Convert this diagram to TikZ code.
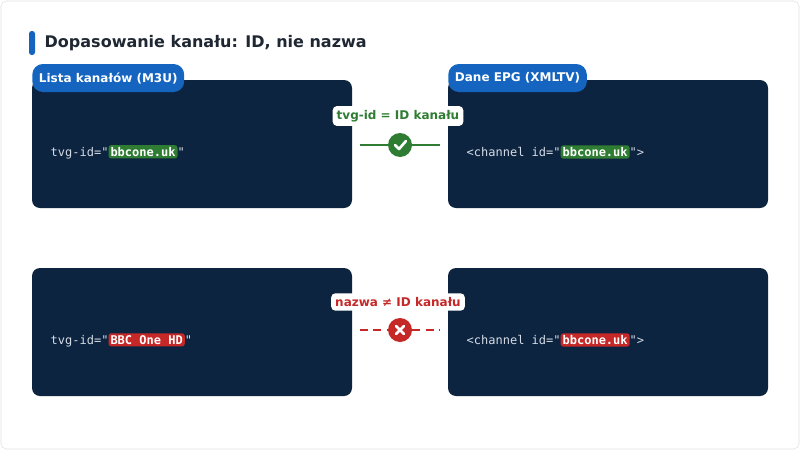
\documentclass[tikz,border=0pt]{standalone}
\usepackage{fontspec}
\setmainfont{DejaVu Sans}
\setmonofont{DejaVu Sans Mono}
\usetikzlibrary{positioning,calc}
\definecolor{panelbg}{HTML}{0D2440}
\definecolor{tagblue}{HTML}{1565C0}
\definecolor{okgreen}{HTML}{2E7D32}
\definecolor{badred}{HTML}{C62828}
\definecolor{codegray}{HTML}{D5DCE6}
\definecolor{titleink}{HTML}{1F2733}
\newcommand{\okval}[1]{\tikz[baseline=(v.base)]\node[inner sep=1.5pt,rounded corners=2pt,fill=okgreen,text=white,font=\ttfamily\bfseries\small](v){#1};}
\newcommand{\badval}[1]{\tikz[baseline=(v.base)]\node[inner sep=1.5pt,rounded corners=2pt,fill=badred,text=white,font=\ttfamily\bfseries\small](v){#1};}
\tikzset{
    panel/.style={fill=panelbg, rounded corners=6pt, draw=none},
    tag/.style={fill=tagblue, text=white, rounded corners=8pt, font=\bfseries\small, inner xsep=5pt, minimum height=21pt},
    code/.style={text=codegray, font=\ttfamily\small, anchor=west},
    verdict/.style={fill=white, rounded corners=3pt, font=\bfseries\small, inner sep=3pt},
    badge/.style={circle, minimum size=18pt, inner sep=0pt}
}
\begin{document}
\begin{tikzpicture}[x=0.75pt, y=-0.75pt]
    \useasboundingbox (0,0) rectangle (800,450);
    \draw[black!12, rounded corners=4pt] (1,1) rectangle (799,449);
    % title
    \fill[tagblue, rounded corners=2pt] (29,31) rectangle (35,55);
    \node[anchor=west, text=titleink, font=\bfseries\large] (title) at (40,43) {Dopasowanie kanału: ID, nie nazwa};
    % panels
    \fill[panel] (32,80) rectangle (352,208);
    \fill[panel] (448,80) rectangle (768,208);
    \fill[panel] (32,268) rectangle (352,396);
    \fill[panel] (448,268) rectangle (768,396);
    \node[tag, anchor=west] (m3u) at (32,78) {Lista kanałów (M3U)};
    \node[tag, anchor=west] (epg) at (448,78) {Dane EPG (XMLTV)};
    % matching row
    \node[code] (m3uok) at (46,152) {tvg-id="\okval{bbcone.uk}"};
    \node[code] (epgok) at (462,152) {<channel id="\okval{bbcone.uk}">};
    \node[verdict, text=okgreen] (okl) at (398,116) {tvg-id = ID kanału};
    \node[badge, fill=okgreen] (okc) at (400,145) {};
    \coordinate (okw) at (360,145);
    \coordinate (oke) at (440,145);
    \draw[okgreen, line width=2pt] (okw) -- (okc) (okc) -- (oke);
    \draw[white, line width=2pt, line cap=round, line join=round] ($(okc)+(-5,0)$) -- ($(okc)+(-1,4)$) -- ($(okc)+(6,-4)$);
    % mismatch row
    \node[code] (m3ubad) at (46,340) {tvg-id="\badval{BBC One HD}"};
    \node[code] (epgbad) at (462,340) {<channel id="\badval{bbcone.uk}">};
    \node[verdict, text=badred] (badl) at (398,302) {nazwa ≠ ID kanału};
    \node[badge, fill=badred] (badc) at (400,330) {};
    \coordinate (badw) at (360,330);
    \coordinate (bade) at (440,330);
    \draw[badred, line width=2pt, dash pattern=on 6pt off 4pt] (badw) -- (badc) (badc) -- (bade);
    \draw[white, line width=2pt, line cap=round] ($(badc)+(-4,-4)$) -- ($(badc)+(4,4)$) ($(badc)+(-4,4)$) -- ($(badc)+(4,-4)$);
\end{tikzpicture}
\end{document}
